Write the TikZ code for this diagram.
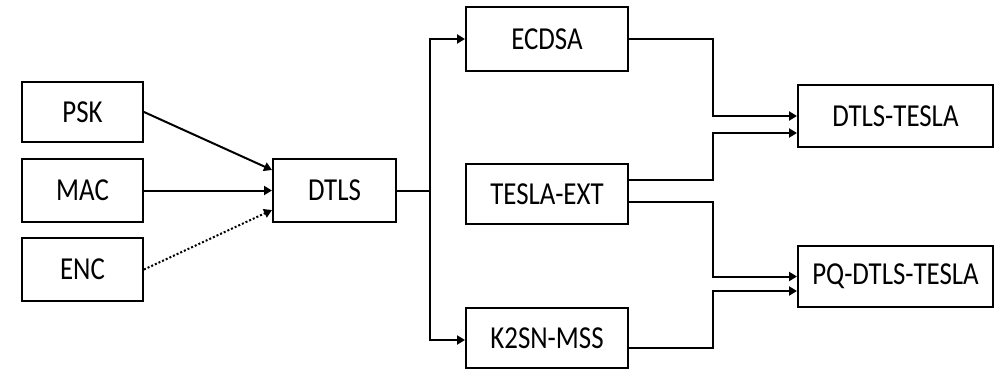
\documentclass[tikz,border=0pt]{standalone}
\usepackage{fontspec}
\setmainfont{Carlito}
\usetikzlibrary{arrows.meta,calc}
\newcommand{\lbl}[1]{\scalebox{0.84}[1]{#1}}
\begin{document}
\begin{tikzpicture}[x=1pt,y=-1pt,
  box/.style={draw=black,line width=2pt,fill=white,inner sep=0pt,
    font=\fontsize{32}{36}\selectfont},
  conn/.style={line width=2pt},
  arr/.style={conn,-{Triangle[length=8pt,width=9pt]}}]
\useasboundingbox (0,0) rectangle (1001,370);
\node[box,minimum width=121pt,minimum height=60pt] (psk) at (82.5,112) {\lbl{PSK}};
\node[box,minimum width=121pt,minimum height=63pt] (mac) at (82.5,190.5) {\lbl{MAC}};
\node[box,minimum width=121pt,minimum height=63pt] (enc) at (82.5,269.5) {\lbl{ENC}};
\node[box,minimum width=123pt,minimum height=63pt] (dtls) at (334.5,190.5) {\lbl{DTLS}};
\node[box,minimum width=162pt,minimum height=64pt] (ecdsa) at (547,39) {\lbl{ECDSA}};
\node[box,minimum width=162pt,minimum height=60pt] (tesla) at (547,194) {\lbl{TESLA-EXT}};
\node[box,minimum width=162pt,minimum height=60pt] (k2sn) at (547,338) {\lbl{K2SN-MSS}};
\node[box,minimum width=195pt,minimum height=62pt] (dt) at (895.5,116) {\lbl{DTLS-TESLA}};
\node[box,minimum width=195pt,minimum height=61pt] (pq) at (895.5,276.5) {\lbl{PQ-DTLS-TESLA}};
\coordinate (sp) at (430,190.5);
\coordinate (mx) at (713,0);
% inputs to DTLS
\draw[arr] (psk.east) -- ([yshift=20.5pt]dtls.west);
\draw[arr] (mac.east) -- (dtls.west);
\draw[arr,dotted] (enc.east) -- ([yshift=-19.5pt]dtls.west);
% DTLS split
\draw[conn] (dtls.east) -- (sp);
\draw[arr] (sp) |- (ecdsa.west);
\draw[arr] (sp) |- ([yshift=-2pt]k2sn.west);
% to DTLS-TESLA
\draw[arr] (ecdsa.east) -- (ecdsa.east -| mx) |- (dt.west);
\draw[arr] ([yshift=14pt]tesla.east) -- ([yshift=14pt]tesla.east -| mx) |- ([yshift=-17pt]dt.west);
% to PQ-DTLS-TESLA
\draw[arr] ([yshift=-8pt]tesla.east) -- ([yshift=-8pt]tesla.east -| mx) |- (pq.west);
\draw[arr] ([yshift=-10pt]k2sn.east) -- ([yshift=-10pt]k2sn.east -| mx) |- ([yshift=-14.5pt]pq.west);
\end{tikzpicture}
\end{document}
